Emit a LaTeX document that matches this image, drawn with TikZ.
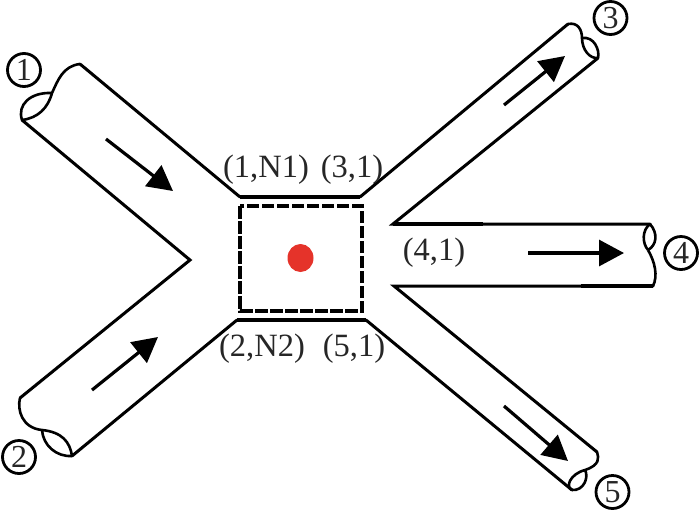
\documentclass[tikz,border=0pt]{standalone}
\usepackage{fontspec}
\setmainfont{Liberation Serif}
\usetikzlibrary{arrows.meta}
\definecolor{dotred}{HTML}{E5332A}
\tikzset{
  x=1pt,y=-1pt,
  pipewall/.style={draw=black,line width=3pt,line join=miter,line cap=round},
  heavywall/.style={draw=black,line width=4.4pt},
  pipeend/.style={draw=black,line width=2.6pt},
  flowarrow/.style={draw=black,line width=3.2pt,-{Triangle[length=25pt,width=26pt]}},
  celltext/.style={inner sep=0pt,text=black!85,font=\fontsize{32.5}{32.5}\selectfont},
  endmark/.style={circle,draw=black,line width=2.8pt,minimum size=33pt,inner sep=0pt,text=black!85,font=\fontsize{32}{32}\selectfont},
  cellbox/.style={draw=black,line width=3.2pt,dash pattern=on 12.5pt off 2.5pt},
}
\begin{document}
\begin{tikzpicture}
\useasboundingbox (0,0) rectangle (700,523);
% named corners
\coordinate (a1) at (80,64);
\coordinate (b1) at (22,120);
\coordinate (m1) at (52,93);
\coordinate (c1) at (240,197);
\coordinate (v) at (190,260);
\coordinate (a2) at (20,398);
\coordinate (b2) at (72,456);
\coordinate (m2) at (42,430);
\coordinate (c2) at (237,320);
\coordinate (c3) at (360,197);
\coordinate (a3) at (568,24);
\coordinate (m3) at (582,38);
\coordinate (b3) at (598,58);
\coordinate (v34) at (393,224);
\coordinate (a4) at (650,224);
\coordinate (m4) at (648,250);
\coordinate (b4) at (653,286);
\coordinate (v45) at (394,286);
\coordinate (a5) at (597,452);
\coordinate (m5) at (585,470);
\coordinate (b5) at (572,490);
\coordinate (c5) at (366,320);
% pipe walls
\draw[pipewall] (b1) -- (v) -- (a2);
\draw[pipewall] (a1) -- (c1);
\draw[pipewall] (b2) -- (c2);
\draw[pipewall] (c3) -- (a3);
\draw[pipewall] (b3) -- (v34) -- (a4);
\draw[pipewall] (b4) -- (v45) -- (a5);
\draw[pipewall] (c5) -- (b5);
\draw[heavywall] (c1) -- (c3);
\draw[heavywall] (c2) -- (c5);
\draw[heavywall] (v34) -- +(90,0);
\draw[heavywall] (b4) -- +(-72,0);
% broken ends
\draw[pipeend] (a1) .. controls (63,66) and (58,80) .. (m1);
\draw[pipeend] (b1) .. controls (17,105) and (30,92) .. (m1);
\draw[pipeend] (b1) .. controls (38,118) and (48,108) .. (m1);
\draw[pipeend] (a2) .. controls (17,410) and (22,428) .. (m2);
\draw[pipeend] (m2) .. controls (62,432) and (70,442) .. (b2);
\draw[pipeend] (m2) .. controls (43,445) and (56,457) .. (b2);
\draw[pipeend] (a3) .. controls (578,22) and (582,30) .. (m3);
\draw[pipeend] (m3) .. controls (594,36) and (600,50) .. (b3);
\draw[pipeend] (m3) .. controls (582,50) and (590,59) .. (b3);
\draw[pipeend] (a4) .. controls (642,230) and (642,243) .. (m4);
\draw[pipeend] (a4) .. controls (658,233) and (657,245) .. (m4);
\draw[pipeend] (m4) .. controls (655,262) and (658,276) .. (b4);
\draw[pipeend] (a5) .. controls (599,458) and (600,465) .. (m5);
\draw[pipeend] (m5) .. controls (570,474) and (565,487) .. (b5);
\draw[pipeend] (m5) .. controls (589,477) and (584,491) .. (b5);
% cell
\draw[cellbox] (240,206) rectangle (362,311);
\fill[dotred] (300.5,258) ellipse [x radius=13,y radius=14];
% flow arrows
\coordinate (f1s) at (106,139); \coordinate (f1e) at (173,191);
\coordinate (f2s) at (92,390); \coordinate (f2e) at (158,337);
\coordinate (f3s) at (504,105); \coordinate (f3e) at (565,56);
\coordinate (f4s) at (528,253); \coordinate (f4e) at (624,253);
\coordinate (f5s) at (504,406); \coordinate (f5e) at (568,461);
\draw[flowarrow] (f1s) -- (f1e);
\draw[flowarrow] (f2s) -- (f2e);
\draw[flowarrow] (f3s) -- (f3e);
\draw[flowarrow] (f4s) -- (f4e);
\draw[flowarrow] (f5s) -- (f5e);
% labels
\node[celltext] (l1) at (266,170) {(1,N1)};
\node[celltext] (l3) at (352,170) {(3,1)};
\node[celltext] (l2) at (262,349) {(2,N2)};
\node[celltext] (l5) at (354,349) {(5,1)};
\node[celltext] (l4) at (434,253) {(4,1)};
\node[endmark] (n1) at (24,70) {1};
\node[endmark] (n2) at (19,457) {2};
\node[endmark] (n3) at (610.5,18) {3};
\node[endmark] (n4) at (681,253) {4};
\node[endmark] (n5) at (612.5,492) {5};
\end{tikzpicture}
\end{document}
